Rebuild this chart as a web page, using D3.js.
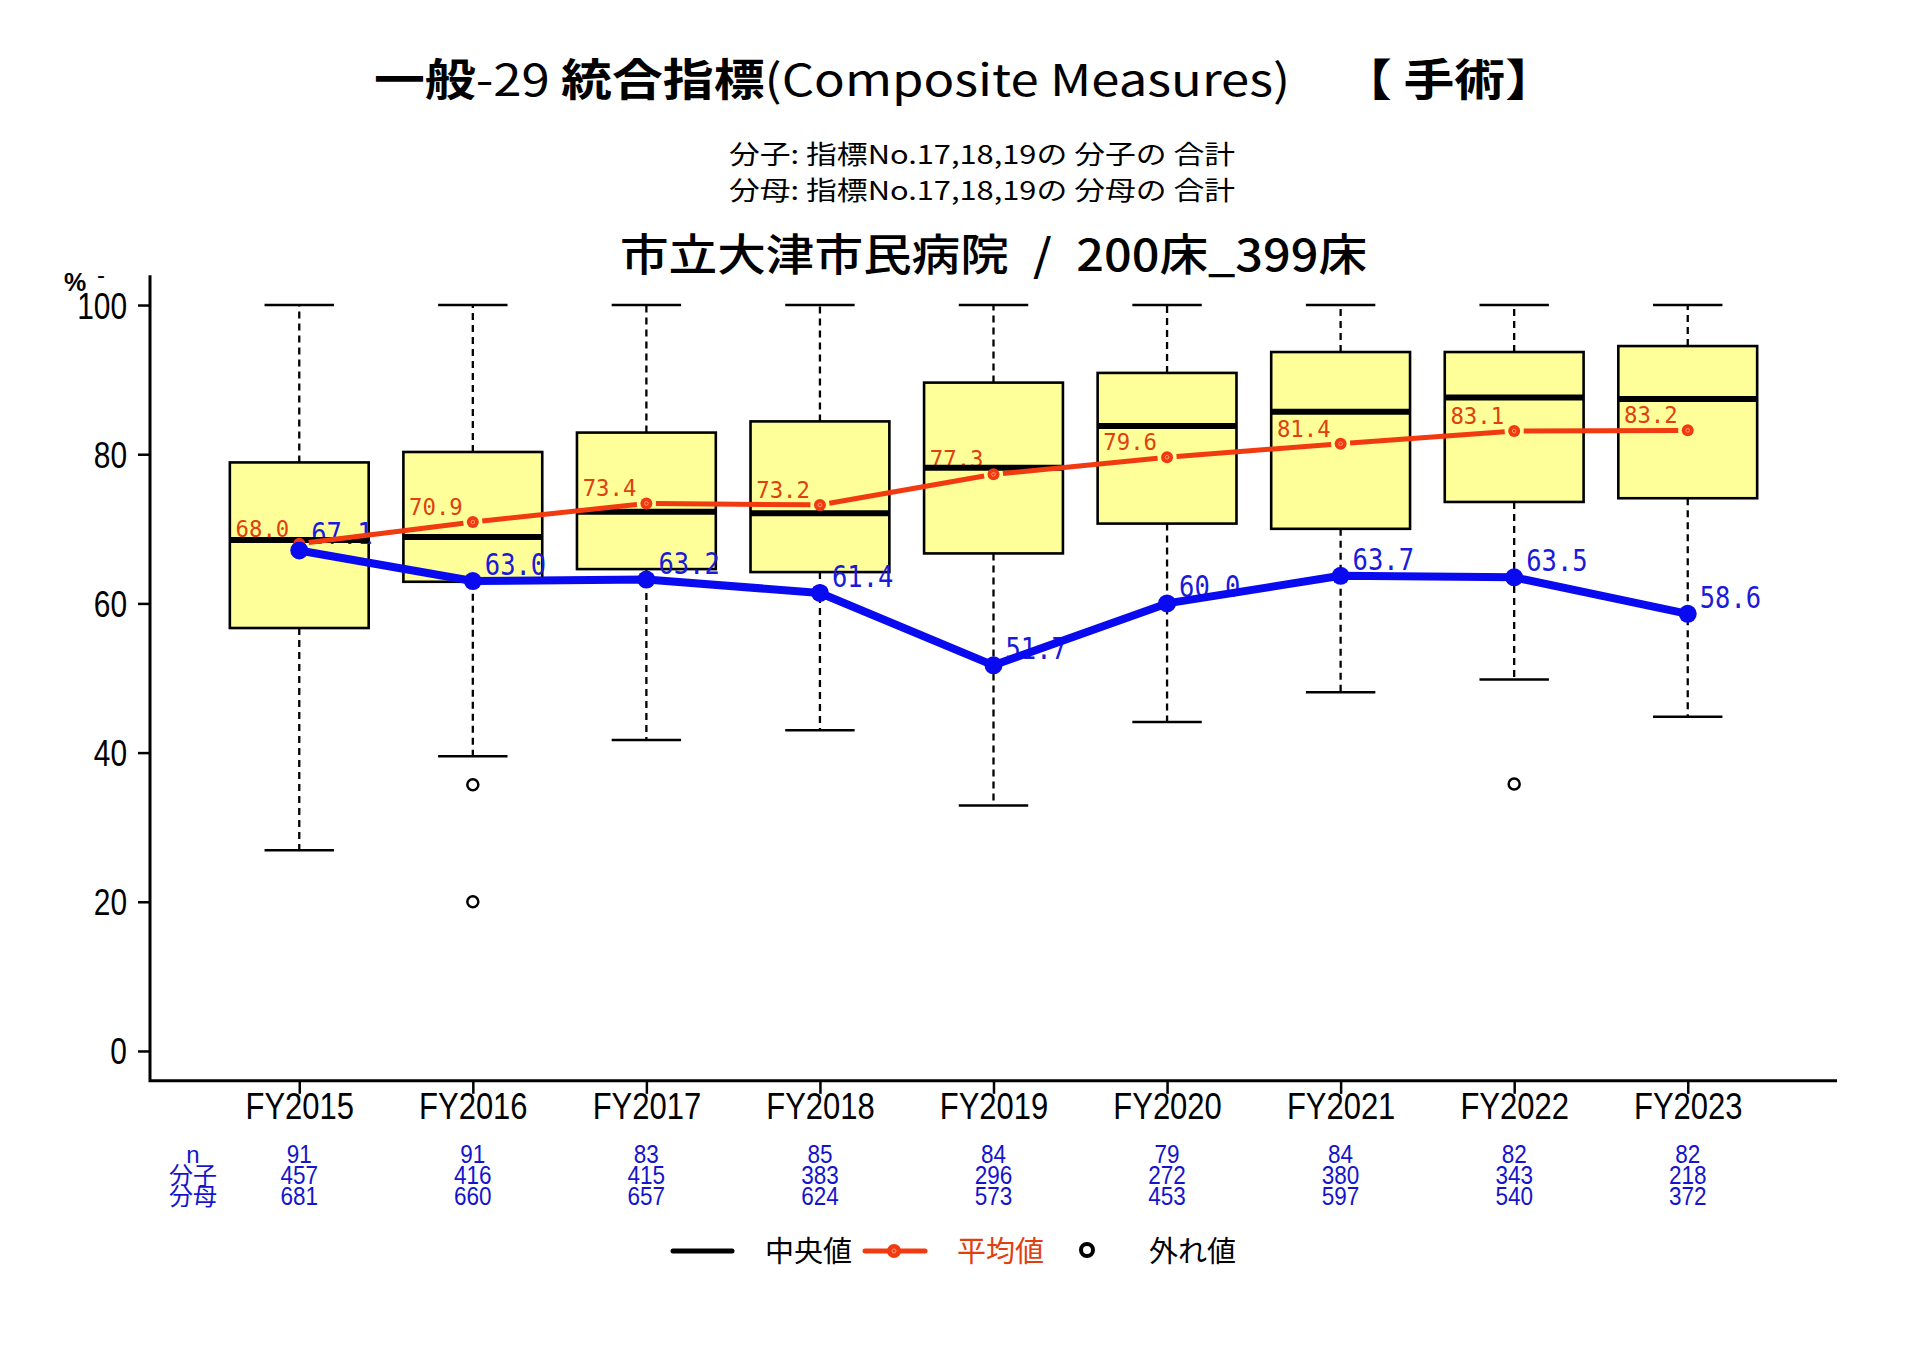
<!DOCTYPE html>
<html>
<head>
<meta charset="utf-8">
<script src="https://cdn.jsdelivr.net/npm/d3@7"></script>
<style>
  html, body { margin: 0; padding: 0; background: #fff; }
  svg { display: block; }
  text { white-space: pre; }
</style>
</head>
<body>
<svg id="chart" width="1920" height="1358"></svg>
<script>
// ---------------- data ----------------
const categories = ["FY2015","FY2016","FY2017","FY2018","FY2019","FY2020","FY2021","FY2022","FY2023"];
const whiskerHigh = [100, 100, 100, 100, 100, 100, 100, 100, 100];
const upperQuartile = [78.9, 80.3, 82.9, 84.4, 89.6, 90.9, 93.7, 93.7, 94.5];
const medianValues = [68.5, 68.9, 72.3, 72.1, 78.2, 83.8, 85.7, 87.6, 87.4];
const lowerQuartile = [56.7, 62.9, 64.6, 64.2, 66.7, 70.7, 70.0, 73.6, 74.1];
const whiskerLow = [26.9, 39.5, 41.7, 43.0, 32.9, 44.1, 48.1, 49.8, 44.8];
const outlierValues = [[], [35.7, 20.0], [], [], [], [], [], [35.8], []];
const meanValues = [68.0, 70.9, 73.4, 73.2, 77.3, 79.6, 81.4, 83.1, 83.2];
const hospitalValues = [67.1, 63.0, 63.2, 61.4, 51.7, 60.0, 63.7, 63.5, 58.6];
const nValues = [91, 91, 83, 85, 84, 79, 84, 82, 82];
const numeratorValues = [457, 416, 415, 383, 296, 272, 380, 343, 218];
const denominatorValues = [681, 660, 657, 624, 573, 453, 597, 540, 372];
const yTickValues = [0, 20, 40, 60, 80, 100];
const tableRowLabels = ["n", "分子", "分母"];
const legendLabels = ["中央値", "平均値", "外れ値"];
const titleParts = [["一般", 700], ["-29 ", 400], ["統合指標", 700], ["(Composite Measures)", 400], ["\u2002\u2002【 手術】", 700]];
const subtitleLines = ["分子: 指標No.17,18,19の 分子の 合計", "分母: 指標No.17,18,19の 分母の 合計"];
const hospitalTitle = "市立大津市民病院\u2002/\u2002200床_399床";

// ---------------- setup ----------------
const svg = d3.select("#chart");
svg.append("rect").attr("width", 1920).attr("height", 1358).attr("fill", "#fff");

const CJK = "'Noto Sans CJK JP', 'Noto Sans', sans-serif";
const SANS = "'Liberation Sans', Arial, sans-serif";
const MONO = "'DejaVu Sans Mono', 'Liberation Mono', monospace";
const RED = "#F23A10";
const RED_TEXT = "#E0400E";
const BLUE = "#0A0AF0";
const BLUE_TEXT = "#1A1AD8";
const TABLE_BLUE = "#1414CC";

const x = d3.scaleLinear().domain([0.14, 9.86]).range([150, 1837]);
const y = d3.scaleLinear().domain([-4, 104]).range([1080.8, 275.2]);
const cx = i => x(i + 1);
const boxHalf = x(1.4) - x(1);
const capHalf = x(1.2) - x(1);

function condense(sel, f) {
  sel.each(function () {
    const w = this.getComputedTextLength();
    d3.select(this).attr("textLength", w * f).attr("lengthAdjust", "spacingAndGlyphs");
  });
  return sel;
}
function fitWidth(sel, w) {
  return sel.attr("textLength", w).attr("lengthAdjust", "spacingAndGlyphs");
}

// ---------------- titles ----------------
const title = svg.append("text").attr("x", 374).attr("y", 96)
  .attr("font-family", CJK).attr("font-size", 44).attr("fill", "#000");
titleParts.forEach(([t, w]) => title.append("tspan").attr("font-weight", w).text(t));
fitWidth(title, 1182);

subtitleLines.forEach((t, i) => {
  fitWidth(svg.append("text").attr("x", 729).attr("y", 164 + i * 36)
    .attr("font-family", CJK).attr("font-size", 26).attr("fill", "#000").text(t), 506);
});

fitWidth(svg.append("text").attr("x", 620).attr("y", 271)
  .attr("font-family", CJK).attr("font-size", 44).attr("font-weight", 500)
  .attr("fill", "#000").text(hospitalTitle), 747);

// "%" unit label
svg.append("text").attr("x", 75).attr("y", 291).attr("text-anchor", "middle")
  .attr("font-family", SANS).attr("font-size", 25).attr("font-weight", 700).text("%");
svg.append("text").attr("x", 101).attr("y", 283).attr("text-anchor", "middle")
  .attr("font-family", SANS).attr("font-size", 24).text("-");

// ---------------- frame & axes ----------------
svg.append("path")
  .attr("d", `M${x(0.14)},${y(104)}V${y(-4)}H${x(9.86)}`)
  .attr("fill", "none").attr("stroke", "#000").attr("stroke-width", 3);

const yAxis = svg.append("g").attr("transform", `translate(${x(0.14)},0)`)
  .call(d3.axisLeft(y).tickValues(yTickValues).tickSize(12).tickPadding(11).tickFormat(d3.format("d")));
yAxis.select(".domain").remove();
yAxis.selectAll(".tick line").attr("stroke", "#000").attr("stroke-width", 2.5);
yAxis.selectAll(".tick text").attr("font-family", SANS).attr("font-size", 36).attr("fill", "#000")
  .attr("dy", "0.36em");
condense(yAxis.selectAll(".tick text"), 0.83);

const xAxis = svg.append("g").attr("transform", `translate(0,${y(-4)})`)
  .call(d3.axisBottom(x).tickValues(categories.map((c, i) => i + 1)).tickSize(13).tickPadding(6)
    .tickFormat((d) => categories[d - 1]));
xAxis.select(".domain").remove();
xAxis.selectAll(".tick line").attr("stroke", "#000").attr("stroke-width", 2.5);
xAxis.selectAll(".tick text").attr("font-family", SANS).attr("font-size", 36).attr("fill", "#000")
  .attr("dy", "0.53em");
condense(xAxis.selectAll(".tick text"), 0.86);

// ---------------- boxplots ----------------
const boxes = svg.append("g");
categories.forEach((c, i) => {
  const g = boxes.append("g");
  g.append("line").attr("x1", cx(i)).attr("x2", cx(i))
    .attr("y1", y(upperQuartile[i])).attr("y2", y(whiskerHigh[i]))
    .attr("stroke", "#000").attr("stroke-width", 2.3).attr("stroke-dasharray", "7,5");
  g.append("line").attr("x1", cx(i)).attr("x2", cx(i))
    .attr("y1", y(lowerQuartile[i])).attr("y2", y(whiskerLow[i]))
    .attr("stroke", "#000").attr("stroke-width", 2.3).attr("stroke-dasharray", "7,5");
  [whiskerHigh[i], whiskerLow[i]].forEach(v => {
    g.append("line").attr("x1", cx(i) - capHalf).attr("x2", cx(i) + capHalf)
      .attr("y1", y(v)).attr("y2", y(v)).attr("stroke", "#000").attr("stroke-width", 2.5);
  });
  g.append("rect").attr("x", cx(i) - boxHalf).attr("width", 2 * boxHalf)
    .attr("y", y(upperQuartile[i])).attr("height", y(lowerQuartile[i]) - y(upperQuartile[i]))
    .attr("fill", "#FFFF99").attr("stroke", "#000").attr("stroke-width", 2.6);
  outlierValues[i].forEach(v => {
    g.append("circle").attr("cx", cx(i)).attr("cy", y(v)).attr("r", 5.5)
      .attr("fill", "none").attr("stroke", "#000").attr("stroke-width", 2.5);
  });
});

// ---------------- value labels ----------------
const meanLabels = svg.append("g");
meanValues.forEach((v, i) => {
  meanLabels.append("text").attr("x", cx(i) - 10).attr("y", y(v) - 7).attr("text-anchor", "end")
    .attr("font-family", MONO).attr("font-size", 23).attr("fill", RED_TEXT).text(v.toFixed(1));
});
condense(meanLabels.selectAll("text"), 0.97);
const hospLabels = svg.append("g");
hospitalValues.forEach((v, i) => {
  hospLabels.append("text").attr("x", cx(i) + 12).attr("y", y(v) - 6)
    .attr("font-family", MONO).attr("font-size", 30).attr("fill", BLUE_TEXT).text(v.toFixed(1));
});
condense(hospLabels.selectAll("text"), 0.85);

// medians on top of labels
categories.forEach((c, i) => {
  svg.append("line").attr("x1", cx(i) - boxHalf).attr("x2", cx(i) + boxHalf)
    .attr("y1", y(medianValues[i])).attr("y2", y(medianValues[i]))
    .attr("stroke", "#000").attr("stroke-width", 6);
});

// ---------------- mean line (type "b", gaps around points) ----------------
const meanG = svg.append("g");
const gap = 9.5;
for (let i = 0; i < meanValues.length - 1; i++) {
  const x1 = cx(i), y1 = y(meanValues[i]), x2 = cx(i + 1), y2 = y(meanValues[i + 1]);
  const len = Math.hypot(x2 - x1, y2 - y1), ux = (x2 - x1) / len, uy = (y2 - y1) / len;
  meanG.append("line").attr("x1", x1 + ux * gap).attr("y1", y1 + uy * gap)
    .attr("x2", x2 - ux * gap).attr("y2", y2 - uy * gap)
    .attr("stroke", RED).attr("stroke-width", 5);
}
meanValues.forEach((v, i) => {
  meanG.append("circle").attr("cx", cx(i)).attr("cy", y(v)).attr("r", 6)
    .attr("fill", RED);
  meanG.append("circle").attr("cx", cx(i)).attr("cy", y(v)).attr("r", 1.8)
    .attr("fill", "none").attr("stroke", "#FF9A80").attr("stroke-width", 1);
});

// ---------------- hospital line ----------------
const line = d3.line().x((d, i) => cx(i)).y(d => y(d));
svg.append("path").datum(hospitalValues).attr("d", line)
  .attr("fill", "none").attr("stroke", BLUE).attr("stroke-width", 8).attr("stroke-linejoin", "round");
hospitalValues.forEach((v, i) => {
  svg.append("circle").attr("cx", cx(i)).attr("cy", y(v)).attr("r", 9).attr("fill", BLUE);
});

// ---------------- count table ----------------
const table = svg.append("g");
const rowY = [1163, 1184, 1205];
tableRowLabels.forEach((t, r) => {
  table.append("text").attr("x", 193).attr("y", rowY[r]).attr("text-anchor", "middle")
    .attr("font-family", r === 0 ? SANS : CJK).attr("font-size", 24)
    .attr("fill", TABLE_BLUE).text(t);
});
const rows = [nValues, numeratorValues, denominatorValues];
const nums = table.append("g");
rows.forEach((vals, r) => {
  vals.forEach((v, i) => {
    nums.append("text").attr("x", cx(i)).attr("y", rowY[r]).attr("text-anchor", "middle")
      .attr("font-family", SANS).attr("font-size", 25).attr("fill", TABLE_BLUE).text(v);
  });
});
condense(nums.selectAll("text"), 0.9);

// ---------------- legend ----------------
const lg = svg.append("g");
const ly = 1251;
lg.append("line").attr("x1", 673).attr("x2", 732).attr("y1", ly).attr("y2", ly)
  .attr("stroke", "#000").attr("stroke-width", 5).attr("stroke-linecap", "round");
lg.append("text").attr("x", 765).attr("y", ly + 11).attr("font-family", CJK).attr("font-size", 29)
  .attr("fill", "#000").text(legendLabels[0]);
lg.append("line").attr("x1", 865).attr("x2", 925).attr("y1", ly).attr("y2", ly)
  .attr("stroke", RED).attr("stroke-width", 5).attr("stroke-linecap", "round");
lg.append("circle").attr("cx", 894).attr("cy", ly).attr("r", 7).attr("fill", RED);
lg.append("circle").attr("cx", 894).attr("cy", ly).attr("r", 2).attr("fill", "none")
  .attr("stroke", "#FF9A80").attr("stroke-width", 1);
lg.append("text").attr("x", 957).attr("y", ly + 11).attr("font-family", CJK).attr("font-size", 29)
  .attr("fill", RED_TEXT).text(legendLabels[1]);
lg.append("circle").attr("cx", 1087).attr("cy", ly - 1).attr("r", 6)
  .attr("fill", "none").attr("stroke", "#000").attr("stroke-width", 4);
lg.append("text").attr("x", 1149).attr("y", ly + 11).attr("font-family", CJK).attr("font-size", 29)
  .attr("fill", "#000").text(legendLabels[2]);
</script>
</body>
</html>
